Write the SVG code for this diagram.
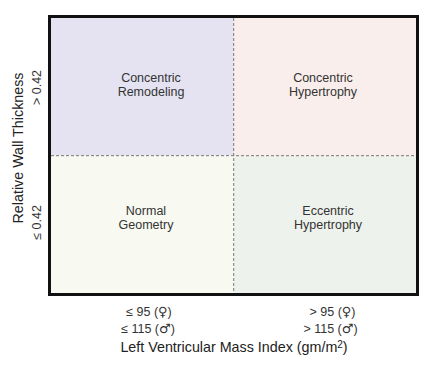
<svg xmlns="http://www.w3.org/2000/svg" width="442" height="371" viewBox="0 0 442 371">
<style>
text{font-family:"Liberation Sans",Arial,"DejaVu Sans",sans-serif;fill:#333}
.q{font-size:12.5px;text-anchor:middle}
.t{font-size:12.5px;text-anchor:middle}
.s{font-family:"DejaVu Sans",sans-serif;font-size:13px}
.ax{font-size:14.3px;text-anchor:middle;fill:#222}
.dash{stroke:#777;stroke-width:1;stroke-dasharray:3 2;fill:none}
</style>
<rect width="442" height="371" fill="#fff"/>
<g id="q-concentric-remodeling">
<rect x="49.5" y="16.5" width="184.2" height="139.2" fill="#e5e3f1"/>
<text class="q" x="151" y="81.5">Concentric</text>
<text class="q" x="151" y="95.5">Remodeling</text>
</g>
<g id="q-concentric-hypertrophy">
<rect x="233.7" y="16.5" width="183.8" height="139.2" fill="#faeeec"/>
<text class="q" x="323" y="81.5">Concentric</text>
<text class="q" x="323" y="95.5">Hypertrophy</text>
</g>
<g id="q-normal-geometry">
<rect x="49.5" y="155.7" width="184.2" height="138.8" fill="#f8faf2"/>
<text class="q" x="146" y="215">Normal</text>
<text class="q" x="146" y="229">Geometry</text>
</g>
<g id="q-eccentric-hypertrophy">
<rect x="233.7" y="155.7" width="183.8" height="138.8" fill="#eef2ec"/>
<text class="q" x="328" y="215">Eccentric</text>
<text class="q" x="328" y="229">Hypertrophy</text>
</g>
<g id="connectors">
<line class="dash" x1="233.7" y1="18" x2="233.7" y2="293"/>
<line class="dash" x1="51" y1="155.7" x2="416" y2="155.7"/>
</g>
<rect x="49.5" y="16.5" width="368" height="278" fill="none" stroke="#111" stroke-width="3"/>
<g id="x-axis">
<text class="t" x="149" y="315.5">≤ 95 (<tspan class="s">♀</tspan>)</text>
<text class="t" x="148" y="332.5">≤ 115 (<tspan class="s">♂</tspan>)</text>
<text class="t" x="332.5" y="315.5">&gt; 95 (<tspan class="s">♀</tspan>)</text>
<text class="t" x="330.5" y="332.5">&gt; 115 (<tspan class="s">♂</tspan>)</text>
<text class="ax" x="234" y="351.5">Left Ventricular Mass Index (gm/m<tspan font-size="10" dy="-4">2</tspan><tspan dy="4">)</tspan></text>
</g>
<g id="y-axis">
<text class="ax" transform="translate(22.5,148) rotate(-90)">Relative Wall Thickness</text>
<text class="t" transform="translate(41,87.5) rotate(-90)">&gt; 0.42</text>
<text class="t" transform="translate(41,222.5) rotate(-90)">≤ 0.42</text>
</g>
</svg>
